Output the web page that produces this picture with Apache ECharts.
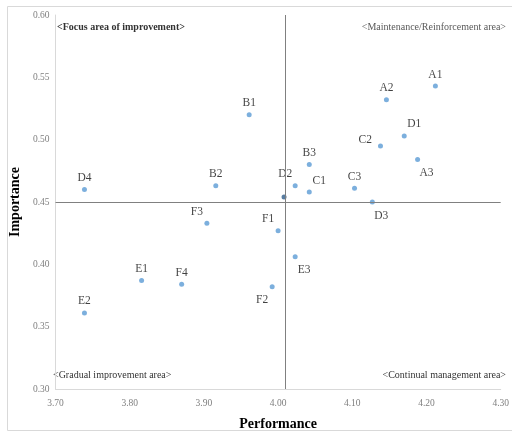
<!DOCTYPE html>
<html>
<head>
<meta charset="utf-8">
<script src="https://cdn.jsdelivr.net/npm/echarts@6/dist/echarts.min.js"></script>
<style>
  html, body { margin: 0; padding: 0; background: #fff; }
  #ipa-chart { width: 512px; height: 436px; }
</style>
</head>
<body>
<div id="ipa-chart"></div>
<script>
// items, performance (x) and importance (y)
const itemNames = ['A1', 'A2', 'A3', 'B1', 'B2', 'B3', 'C1', 'C2', 'C3', 'D1', 'D2', 'D3', 'D4', 'E1', 'E2', 'E3', 'F1', 'F2', 'F3', 'F4'];
const performance = [4.212, 4.146, 4.188, 3.961, 3.916, 4.042, 4.042, 4.138, 4.103, 4.170, 4.023, 4.127, 3.739, 3.816, 3.739, 4.023, 4.000, 3.992, 3.904, 3.870];
const importance = [0.543, 0.532, 0.484, 0.520, 0.463, 0.480, 0.458, 0.495, 0.461, 0.503, 0.463, 0.450, 0.460, 0.387, 0.361, 0.406, 0.427, 0.382, 0.433, 0.384];
const labelSides = ['top', 'top', 'bottomRight', 'top', 'top', 'top', 'topRight', 'left', 'top', 'topRight', 'topLeft', 'bottomRight', 'top', 'top', 'top', 'bottomRight', 'topLeft', 'bottomLeft', 'topLeft', 'top'];

// mean point where the quadrants split
const meanPerformance = 4.008;
const meanImportance = 0.454;

const xTicks = { min: 3.7, max: 4.3, interval: 0.1 };
const yTicks = { min: 0.3, max: 0.6, interval: 0.05 };

const quadrantNames = ['<Focus area of improvement>', '<Maintenance/Reinforcement area>', '<Gradual improvement area>', '<Continual management area>'];

const serif = '"Liberation Serif", "DejaVu Serif", serif';

const offsets = {
  top: { position: 'top', offset: [0, 2] },
  topRight: { position: 'top', offset: [10, 2] },
  topLeft: { position: 'top', offset: [-10, 2] },
  left: { position: 'left', offset: [-1, -6] },
  bottomRight: { position: 'bottom', offset: [9, 0] },
  bottomLeft: { position: 'bottom', offset: [-10, 0] }
};

const points = itemNames.map((name, i) => {
  const side = offsets[labelSides[i]];
  return {
    name: name,
    value: [performance[i], importance[i]],
    label: { position: side.position, offset: side.offset }
  };
});

const chart = echarts.init(document.getElementById('ipa-chart'));

const option = {
  animation: false,
  grid: { left: 49, right: 11, top: 15, bottom: 47 },
  xAxis: {
    type: 'value',
    min: xTicks.min,
    max: xTicks.max,
    interval: xTicks.interval,
    name: 'Performance',
    nameLocation: 'middle',
    nameGap: 28,
    nameTextStyle: { fontFamily: serif, fontWeight: 'bold', fontSize: 14, color: '#000' },
    axisLine: { lineStyle: { color: '#d9d9d9' } },
    axisTick: { show: false },
    splitLine: { show: false },
    axisLabel: {
      fontFamily: serif, fontSize: 9.5, color: '#7f7f7f', margin: 9,
      formatter: v => v.toFixed(2)
    }
  },
  yAxis: {
    type: 'value',
    min: yTicks.min,
    max: yTicks.max,
    interval: yTicks.interval,
    name: 'Importance',
    nameLocation: 'middle',
    nameGap: 23,
    nameTextStyle: { fontFamily: serif, fontWeight: 'bold', fontSize: 14, color: '#000' },
    axisLine: { show: true, lineStyle: { color: '#d9d9d9' } },
    axisTick: { show: false },
    splitLine: { show: false },
    axisLabel: {
      fontFamily: serif, fontSize: 9.5, color: '#7f7f7f', margin: 6,
      formatter: v => v.toFixed(2)
    }
  },
  graphic: [
    {
      type: 'rect', silent: true, z: -1,
      shape: { x: 7.5, y: 6.5, width: 510, height: 424 },
      style: { fill: 'none', stroke: '#d9d9d9', lineWidth: 1 }
    },
    {
      type: 'text', left: 57, top: 22,
      style: { text: quadrantNames[0], font: 'bold 10px ' + serif, fill: '#333' }
    },
    {
      type: 'text', right: 6, top: 22,
      style: { text: quadrantNames[1], font: '10px ' + serif, fill: '#595959' }
    },
    {
      type: 'text', left: 53, top: 370,
      style: { text: quadrantNames[2], font: '10px ' + serif, fill: '#333' }
    },
    {
      type: 'text', right: 6, top: 370,
      style: { text: quadrantNames[3], font: '10px ' + serif, fill: '#333' }
    }
  ],
  series: [
    {
      type: 'scatter',
      symbolSize: 5,
      itemStyle: { color: '#5b9bd5' },
      label: {
        show: true,
        formatter: '{b}',
        fontFamily: serif,
        fontSize: 11.5,
        color: '#111'
      },
      data: points,
      markLine: {
        silent: true,
        symbol: 'none',
        label: { show: false },
        lineStyle: { type: 'solid', color: '#808080', width: 1 },
        data: [
          { xAxis: meanPerformance },
          { yAxis: meanImportance }
        ]
      }
    },
    {
      type: 'scatter',
      symbolSize: 5,
      z: 3,
      itemStyle: { color: '#2e5c8a' },
      data: [[meanPerformance, meanImportance]]
    }
  ]
};

chart.setOption(option);
</script>
</body>
</html>
